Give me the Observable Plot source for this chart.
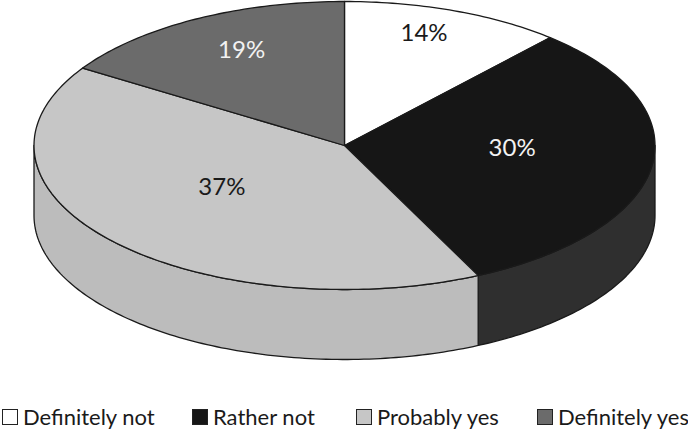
<!DOCTYPE html>
<html>
<head>
<meta charset="utf-8">
<script src="https://cdn.jsdelivr.net/npm/d3@7"></script>
<script src="https://cdn.jsdelivr.net/npm/@observablehq/plot@0.6"></script>
<style>
  html, body { margin: 0; padding: 0; background: #fff; }
  #wrap { position: relative; width: 688px; height: 430px; overflow: hidden; font-family: Lato, sans-serif; color: #1a1a1a; }
  .key { position: absolute; top: 404px; height: 26px; line-height: 26px; font-size: 22px; white-space: nowrap; display: flex; align-items: center; }
  .key i { display: inline-block; box-sizing: border-box; width: 16px; height: 16px; border: 1.5px solid #222; margin-right: 5px; }
  svg { display: block; }
</style>
</head>
<body>
<div id="wrap"></div>
<script>
// Data
const categories = ["Definitely not", "Rather not", "Probably yes", "Definitely yes"];
const percentLabels = [14, 30, 37, 19];
// Angular sweep of each slice as drawn (degrees, clockwise from 12 o'clock)
const drawnSweep = [41.5, 113, 148, 57.5];
const topColors = ["#ffffff", "#161616", "#c6c6c6", "#6b6b6b"];
const sideColors = ["#ffffff", "#2f2f2f", "#bcbcbc", "#5a5a5a"];
const labelColors = ["#1a1a1a", "#f2f2f2", "#1a1a1a", "#f2f2f2"];
// Label placement on the ellipse: angle (deg) and radius fraction
const labelAngle = [18.2, 92, 233.7, 333.4];
const labelRadius = [0.82, 0.54, 0.49, 0.74];
const legendLeft = [2, 192, 356, 537];

// Layout of the disc
const W = 688, H = 396, cx = 344, cy = 145, rx = 310.5, ry = 144, depth = 70 / 144;

const rad = a => a * Math.PI / 180;
const px = a => Math.sin(rad(a));
const py = a => Math.cos(rad(a));

let start = 0;
const slices = categories.map((name, i) => {
  const s = { name, i, a0: start, a1: start + drawnSweep[i] };
  start = s.a1;
  return s;
});

const arc = (a0, a1) => {
  const n = Math.max(2, Math.ceil(a1 - a0));
  return d3.range(n + 1).map(k => a0 + (a1 - a0) * k / n);
};

// Front wall: only the part of each slice facing the viewer (90..270 deg)
const sidePts = [];
slices.forEach(s => {
  const a0 = Math.max(s.a0, 90), a1 = Math.min(s.a1, 270);
  if (a1 <= a0) return;
  const top = arc(a0, a1);
  const loop = [
    ...top.map(a => ({ x: px(a), y: py(a) })),
    ...top.slice().reverse().map(a => ({ x: px(a), y: py(a) - depth }))
  ];
  loop.push(loop[0]);
  loop.forEach(p => sidePts.push({ ...p, id: s.name, fill: sideColors[s.i] }));
});

// Top face
const topPts = [];
slices.forEach(s => {
  const loop = [{ x: 0, y: 0 }, ...arc(s.a0, s.a1).map(a => ({ x: px(a), y: py(a) })), { x: 0, y: 0 }];
  loop.forEach(p => topPts.push({ ...p, id: s.name, fill: topColors[s.i] }));
});

const labels = categories.map((c, i) => ({
  x: labelRadius[i] * px(labelAngle[i]),
  y: labelRadius[i] * py(labelAngle[i]),
  text: percentLabels[i] + "%",
  color: labelColors[i]
}));

const chart = Plot.plot({
  width: W, height: H,
  margin: 0,
  x: { axis: null, domain: [-cx / rx, (W - cx) / rx], range: [0, W] },
  y: { axis: null, domain: [cy / ry, (cy - H) / ry], range: [0, H] },
  style: { background: "transparent" },
  marks: [
    Plot.line(sidePts, { x: "x", y: "y", z: "id", fill: "fill", stroke: "#1a1a1a", strokeWidth: 1.3, curve: "linear" }),
    Plot.line(topPts, { x: "x", y: "y", z: "id", fill: "fill", stroke: "#1a1a1a", strokeWidth: 1.3, curve: "linear" }),
    Plot.text(labels, { x: "x", y: "y", text: "text", fill: "color", fontSize: 24, fontFamily: "Lato, sans-serif" })
  ]
});

const wrap = document.getElementById("wrap");
wrap.appendChild(chart);
categories.forEach((c, i) => {
  const k = document.createElement("div");
  k.className = "key";
  k.style.left = legendLeft[i] + "px";
  const sw = document.createElement("i");
  sw.style.background = topColors[i];
  k.appendChild(sw);
  k.appendChild(document.createTextNode(c));
  wrap.appendChild(k);
});
</script>
</body>
</html>
